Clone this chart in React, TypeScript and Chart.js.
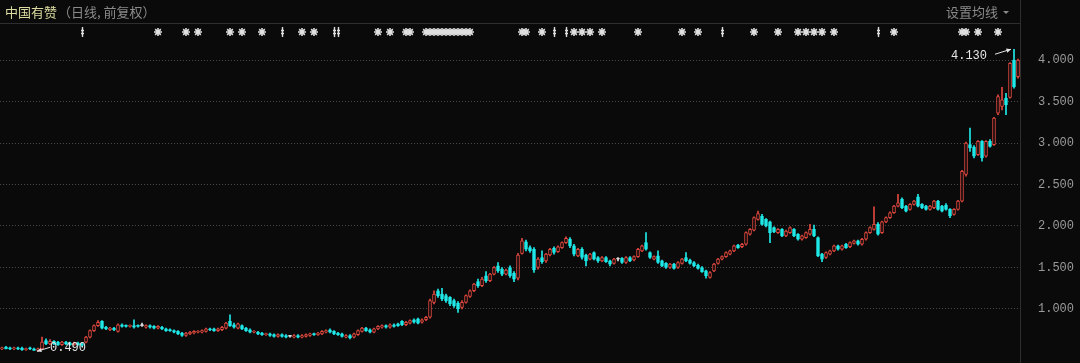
import { useEffect, useRef } from 'react';
import { Chart, registerables } from 'chart.js';

Chart.register(...registerables);

// ---- data (daily candles, forward-adjusted) ----
const open = [
  0.52,0.54,0.53,0.52,0.53,0.53,0.51,0.53,0.52,0.50,
  0.52,0.62,0.58,0.61,0.60,0.57,0.60,0.59,0.57,0.59,
  0.58,0.60,0.66,0.74,0.80,0.85,0.78,0.75,0.77,0.73,
  0.81,0.80,0.79,0.80,0.80,0.80,0.78,0.80,0.79,0.77,
  0.78,0.76,0.75,0.74,0.73,0.71,0.68,0.70,0.71,0.72,
  0.72,0.73,0.76,0.76,0.74,0.75,0.77,0.85,0.81,0.77,
  0.80,0.77,0.75,0.72,0.72,0.71,0.69,0.70,0.69,0.67,
  0.69,0.68,0.67,0.66,0.68,0.66,0.67,0.68,0.70,0.69,
  0.70,0.72,0.75,0.73,0.71,0.70,0.66,0.68,0.66,0.69,
  0.73,0.77,0.75,0.72,0.76,0.78,0.80,0.78,0.81,0.82,
  0.85,0.81,0.83,0.87,0.88,0.84,0.87,0.90,1.08,1.22,
  1.18,1.16,1.14,1.10,1.07,1.02,1.08,1.15,1.22,1.33,
  1.28,1.40,1.34,1.42,1.52,1.48,1.42,1.50,1.43,1.37,
  1.67,1.81,1.74,1.72,1.50,1.62,1.58,1.65,1.73,1.69,
  1.74,1.80,1.84,1.76,1.64,1.72,1.65,1.60,1.68,1.62,
  1.58,1.62,1.58,1.55,1.60,1.61,1.56,1.62,1.59,1.63,
  1.70,1.80,1.68,1.60,1.64,1.58,1.55,1.50,1.54,1.50,
  1.55,1.62,1.59,1.56,1.53,1.50,1.46,1.38,1.46,1.55,
  1.60,1.63,1.66,1.70,1.77,1.75,1.78,1.90,1.95,2.08,
  2.12,2.08,2.05,1.98,1.92,1.96,1.88,1.92,1.96,1.90,
  1.84,1.86,1.90,1.96,1.86,1.66,1.62,1.66,1.70,1.76,
  1.72,1.78,1.75,1.79,1.82,1.78,1.84,1.92,1.96,2.02,
  1.92,2.05,2.10,2.16,2.24,2.32,2.24,2.20,2.26,2.35,
  2.26,2.24,2.20,2.22,2.30,2.24,2.25,2.20,2.14,2.20,
  2.30,2.62,2.98,2.95,2.86,3.02,2.84,3.02,2.98,3.36,
  3.44,3.54,3.55,4.00,3.80,
];
const high = [
  0.54,0.55,0.54,0.54,0.54,0.54,0.53,0.54,0.53,0.53,
  0.66,0.64,0.63,0.62,0.61,0.61,0.61,0.60,0.60,0.60,
  0.59,0.67,0.75,0.81,0.86,0.86,0.79,0.78,0.78,0.82,
  0.82,0.81,0.81,0.87,0.81,0.83,0.81,0.81,0.80,0.80,
  0.79,0.77,0.76,0.75,0.74,0.72,0.72,0.73,0.74,0.74,
  0.75,0.77,0.77,0.77,0.77,0.79,0.84,0.93,0.83,0.83,
  0.81,0.78,0.76,0.74,0.73,0.72,0.71,0.71,0.70,0.70,
  0.70,0.69,0.68,0.69,0.69,0.69,0.70,0.71,0.71,0.72,
  0.74,0.75,0.76,0.74,0.72,0.71,0.69,0.69,0.71,0.75,
  0.78,0.78,0.76,0.77,0.80,0.81,0.81,0.82,0.82,0.83,
  0.86,0.85,0.87,0.88,0.89,0.88,0.91,1.12,1.22,1.24,
  1.25,1.18,1.15,1.12,1.09,1.10,1.17,1.23,1.31,1.36,
  1.38,1.45,1.43,1.51,1.56,1.50,1.48,1.52,1.45,1.67,
  1.85,1.83,1.76,1.74,1.62,1.70,1.67,1.73,1.75,1.76,
  1.81,1.87,1.86,1.78,1.73,1.74,1.66,1.67,1.69,1.63,
  1.63,1.63,1.59,1.61,1.62,1.62,1.63,1.63,1.64,1.73,
  1.77,1.92,1.69,1.64,1.70,1.59,1.56,1.55,1.55,1.57,
  1.61,1.68,1.60,1.57,1.54,1.51,1.47,1.45,1.55,1.61,
  1.64,1.69,1.71,1.77,1.78,1.79,1.93,1.97,2.11,2.18,
  2.14,2.09,2.06,1.99,1.97,1.97,1.95,1.99,1.97,1.91,
  1.89,1.93,2.02,2.01,1.87,1.67,1.69,1.71,1.77,1.77,
  1.77,1.79,1.81,1.83,1.83,1.85,1.93,1.99,2.23,2.04,
  2.06,2.11,2.17,2.25,2.38,2.34,2.25,2.27,2.31,2.38,
  2.27,2.25,2.25,2.31,2.31,2.25,2.27,2.21,2.21,2.31,
  2.67,3.01,3.18,2.97,3.03,3.03,3.03,3.04,3.31,3.58,
  3.67,3.60,3.97,4.13,4.01,
];
const low = [
  0.51,0.52,0.51,0.51,0.51,0.50,0.50,0.51,0.50,0.49,
  0.51,0.57,0.57,0.57,0.56,0.56,0.57,0.56,0.56,0.56,
  0.55,0.59,0.65,0.73,0.79,0.76,0.75,0.74,0.74,0.72,
  0.78,0.78,0.78,0.77,0.78,0.79,0.77,0.77,0.76,0.76,
  0.75,0.73,0.73,0.71,0.69,0.67,0.67,0.69,0.70,0.71,
  0.71,0.72,0.74,0.73,0.73,0.74,0.76,0.79,0.77,0.76,
  0.75,0.73,0.71,0.71,0.69,0.68,0.68,0.67,0.66,0.66,
  0.66,0.65,0.66,0.65,0.65,0.65,0.66,0.67,0.68,0.68,
  0.69,0.71,0.71,0.69,0.68,0.66,0.65,0.64,0.65,0.68,
  0.72,0.73,0.71,0.71,0.75,0.77,0.77,0.77,0.78,0.79,
  0.80,0.80,0.82,0.83,0.82,0.83,0.86,0.89,1.06,1.14,
  1.10,1.08,1.04,1.02,0.96,1.00,1.07,1.14,1.21,1.26,
  1.27,1.32,1.33,1.41,1.44,1.40,1.41,1.38,1.33,1.35,
  1.66,1.70,1.68,1.44,1.48,1.55,1.56,1.64,1.66,1.68,
  1.73,1.79,1.74,1.64,1.63,1.60,1.52,1.59,1.59,1.56,
  1.57,1.56,1.52,1.54,1.58,1.55,1.55,1.57,1.58,1.62,
  1.69,1.71,1.61,1.59,1.55,1.51,1.49,1.49,1.48,1.49,
  1.54,1.57,1.54,1.51,1.48,1.44,1.37,1.37,1.45,1.54,
  1.59,1.62,1.65,1.69,1.73,1.74,1.77,1.89,1.94,2.07,
  2.01,1.99,1.80,1.92,1.91,1.87,1.87,1.91,1.87,1.83,
  1.83,1.85,1.89,1.87,1.63,1.57,1.61,1.65,1.69,1.71,
  1.71,1.73,1.74,1.78,1.77,1.77,1.83,1.91,1.95,1.89,
  1.91,2.04,2.09,2.15,2.23,2.21,2.17,2.19,2.25,2.23,
  2.21,2.19,2.19,2.21,2.19,2.17,2.19,2.10,2.13,2.19,
  2.29,2.60,2.90,2.82,2.85,2.78,2.83,2.95,2.97,3.34,
  3.40,3.34,3.54,3.66,3.78,
];
const close = [
  0.53,0.52,0.52,0.53,0.52,0.51,0.52,0.52,0.50,0.52,
  0.60,0.58,0.61,0.58,0.57,0.60,0.58,0.57,0.59,0.57,
  0.56,0.66,0.74,0.80,0.84,0.77,0.76,0.77,0.75,0.81,
  0.79,0.79,0.80,0.78,0.79,0.80,0.80,0.78,0.77,0.79,
  0.76,0.74,0.74,0.72,0.70,0.68,0.71,0.72,0.73,0.73,
  0.74,0.76,0.75,0.74,0.76,0.78,0.83,0.80,0.78,0.82,
  0.76,0.74,0.72,0.73,0.70,0.69,0.70,0.68,0.67,0.69,
  0.67,0.66,0.67,0.68,0.66,0.68,0.69,0.70,0.69,0.71,
  0.73,0.74,0.72,0.70,0.69,0.67,0.68,0.65,0.70,0.74,
  0.77,0.74,0.72,0.76,0.79,0.80,0.78,0.81,0.79,0.80,
  0.81,0.84,0.86,0.84,0.83,0.87,0.90,1.10,1.18,1.16,
  1.12,1.10,1.06,1.04,1.00,1.08,1.16,1.22,1.30,1.28,
  1.36,1.34,1.42,1.50,1.46,1.42,1.47,1.40,1.36,1.65,
  1.82,1.72,1.70,1.47,1.60,1.57,1.66,1.72,1.68,1.75,
  1.80,1.85,1.76,1.66,1.72,1.62,1.58,1.66,1.60,1.58,
  1.62,1.57,1.54,1.60,1.60,1.56,1.62,1.58,1.63,1.72,
  1.76,1.72,1.62,1.63,1.56,1.52,1.50,1.54,1.49,1.56,
  1.60,1.58,1.55,1.52,1.49,1.45,1.40,1.44,1.54,1.60,
  1.63,1.68,1.70,1.76,1.74,1.78,1.92,1.96,2.10,2.15,
  2.02,2.00,1.92,1.93,1.96,1.88,1.94,1.98,1.88,1.84,
  1.88,1.92,1.96,1.88,1.64,1.60,1.68,1.70,1.76,1.72,
  1.76,1.74,1.80,1.82,1.78,1.84,1.92,1.98,2.02,1.90,
  2.05,2.10,2.16,2.24,2.28,2.22,2.18,2.26,2.30,2.24,
  2.22,2.20,2.24,2.30,2.20,2.18,2.20,2.12,2.20,2.30,
  2.66,3.00,2.94,2.84,3.02,2.82,3.02,2.96,3.30,3.56,
  3.52,3.46,3.96,3.68,4.00,
];
const labels = open.map((_, i) => String(i));
const yTicks = [1.0, 1.5, 2.0, 2.5, 3.0, 3.5, 4.0];
// event markers above the chart (candle indices)
const starMarks = [39, 46, 49, 57, 60, 65, 75, 78, 94, 97, 101, 102, 106, 107, 108, 109, 110, 111, 112, 113, 114, 115, 116, 117, 130, 131, 135, 143, 145, 147, 150, 159, 170, 174, 188, 194, 199, 201, 203, 205, 208, 223, 240, 241, 244, 249];
const barMarks = [20, 70, 83, 84, 138, 141, 180, 219];
const titleName = '中国有赞';
const titleNote = '（日线, 前复权）';
const maButton = '设置均线';

const BG = '#0a0a0a';
const RED = '#e0483f';
const CYAN = '#1fe8e8';
const WHITE = '#e0e0e0';

const col = (i: number) => (close[i] > open[i] ? RED : close[i] < open[i] ? CYAN : WHITE);

function drawArrow(ctx: CanvasRenderingContext2D, x1: number, y1: number, x2: number, y2: number) {
  ctx.beginPath();
  ctx.moveTo(x1, y1);
  ctx.lineTo(x2, y2);
  ctx.stroke();
  const a = Math.atan2(y2 - y1, x2 - x1);
  ctx.beginPath();
  ctx.moveTo(x2, y2);
  ctx.lineTo(x2 - 5 * Math.cos(a - 0.45), y2 - 5 * Math.sin(a - 0.45));
  ctx.lineTo(x2 - 5 * Math.cos(a + 0.45), y2 - 5 * Math.sin(a + 0.45));
  ctx.closePath();
  ctx.fill();
}

const overlay = {
  id: 'overlay',
  beforeDraw(chart: any) {
    const ctx = chart.ctx;
    ctx.save();
    ctx.fillStyle = BG;
    ctx.fillRect(0, 0, chart.width, chart.height);
    ctx.restore();
  },
  afterDraw(chart: any) {
    const ctx = chart.ctx;
    const area = chart.chartArea;
    const xs = chart.scales.x;
    const ys = chart.scales.y;
    ctx.save();
    // separators
    ctx.strokeStyle = '#2e2e2e';
    ctx.lineWidth = 1;
    ctx.beginPath();
    ctx.moveTo(0, 23.5);
    ctx.lineTo(area.right, 23.5);
    ctx.moveTo(Math.round(area.right) + 0.5, 0);
    ctx.lineTo(Math.round(area.right) + 0.5, chart.height);
    ctx.stroke();
    // title
    ctx.font = '13px "Noto Sans CJK SC"';
    ctx.textBaseline = 'middle';
    ctx.textAlign = 'left';
    ctx.fillStyle = '#dcdca2';
    ctx.fillText(titleName, 5, 12);
    const w = ctx.measureText(titleName).width;
    ctx.fillStyle = '#8a8a8a';
    ctx.fillText(titleNote, 5 + w + 1, 12);
    ctx.textAlign = 'right';
    ctx.fillText(maButton, 998, 12);
    ctx.beginPath();
    ctx.moveTo(1003, 11);
    ctx.lineTo(1009, 11);
    ctx.lineTo(1006, 14);
    ctx.closePath();
    ctx.fill();
    // markers
    const my = 32;
    ctx.strokeStyle = '#dedede';
    ctx.lineWidth = 1.6;
    starMarks.forEach((i) => {
      const x = xs.getPixelForValue(i);
      const r = 4;
      ctx.beginPath();
      for (let k = 0; k < 4; k++) {
        const a = (k * Math.PI) / 4;
        ctx.moveTo(x - r * Math.cos(a), my - r * Math.sin(a));
        ctx.lineTo(x + r * Math.cos(a), my + r * Math.sin(a));
      }
      ctx.stroke();
    });
    ctx.lineWidth = 1.4;
    barMarks.forEach((i) => {
      const x = Math.round(xs.getPixelForValue(i)) + 0.5;
      ctx.beginPath();
      ctx.moveTo(x, my - 5);
      ctx.lineTo(x, my + 5);
      ctx.moveTo(x - 1.5, my - 1.5);
      ctx.lineTo(x + 1.5, my - 1.5);
      ctx.moveTo(x - 1.5, my + 1.5);
      ctx.lineTo(x + 1.5, my + 1.5);
      ctx.stroke();
    });
    // max / min annotations
    let hi = 0;
    let lo = 0;
    high.forEach((v, i) => { if (v > high[hi]) hi = i; });
    low.forEach((v, i) => { if (v < low[lo]) lo = i; });
    ctx.font = '12px "Liberation Mono"';
    ctx.fillStyle = '#e6e6e6';
    ctx.strokeStyle = '#e6e6e6';
    ctx.lineWidth = 1;
    const hx = xs.getPixelForValue(hi);
    const hy = ys.getPixelForValue(high[hi]);
    ctx.textAlign = 'right';
    ctx.fillText(high[hi].toFixed(3), hx - 27, hy + 7);
    drawArrow(ctx, hx - 19, hy + 5, hx - 3, hy);
    const lx = xs.getPixelForValue(lo);
    const ly = ys.getPixelForValue(low[lo]);
    ctx.textAlign = 'left';
    ctx.fillText(low[lo].toFixed(3), lx + 12, ly - 3);
    drawArrow(ctx, lx + 12, ly - 4, lx - 1, ly);
    ctx.restore();
  },
};

export default function App() {
  const ref = useRef<HTMLCanvasElement>(null);
  useEffect(() => {
    document.body.style.margin = '0';
    document.body.style.background = BG;
    const colors = labels.map((_, i) => col(i));
    const chart = new Chart(ref.current as HTMLCanvasElement, {
      type: 'bar',
      data: {
        labels,
        datasets: [
          {
            label: 'wick',
            data: low.map((l, i) => [l, high[i]]) as any,
            backgroundColor: colors,
            borderWidth: 0,
            barThickness: 1,
            grouped: false,
            order: 2,
          },
          {
            label: 'body',
            data: open.map((o, i) => [o, close[i]]) as any,
            backgroundColor: labels.map((_, i) => (close[i] > open[i] ? BG : colors[i])),
            borderColor: colors,
            borderWidth: 1,
            borderSkipped: false,
            barThickness: 3,
            minBarLength: 1,
            grouped: false,
            order: 1,
          },
        ],
      },
      options: {
        animation: false,
        responsive: true,
        maintainAspectRatio: false,
        layout: { autoPadding: false, padding: { top: 24, left: -0.5, right: 0, bottom: 0 } },
        plugins: { legend: { display: false }, tooltip: { enabled: false }, title: { display: false } },
        scales: {
          x: { display: false, offset: true, grid: { display: false } },
          y: {
            position: 'right',
            min: 0.349,
            max: 4.434,
            beginAtZero: false,
            afterBuildTicks: (scale: any) => {
              scale.ticks = yTicks.map((v) => ({ value: v }));
            },
            afterFit: (scale: any) => {
              scale.width = 60;
              scale.paddingTop = 0;
              scale.paddingBottom = 0;
            },
            grid: { color: '#4a4a4a', drawTicks: false, lineWidth: 1 },
            border: { display: false, dash: [1, 2] },
            ticks: {
              color: '#9a9a9a',
              padding: 18,
              font: { family: 'Liberation Mono', size: 12 },
              callback: (v: any) => Number(v).toFixed(3),
            },
          },
        },
      },
      plugins: [overlay],
    });
    return () => chart.destroy();
  }, []);
  return (
    <div style={{ width: 1080, height: 363, position: 'relative', background: BG }}>
      <canvas ref={ref} />
    </div>
  );
}
